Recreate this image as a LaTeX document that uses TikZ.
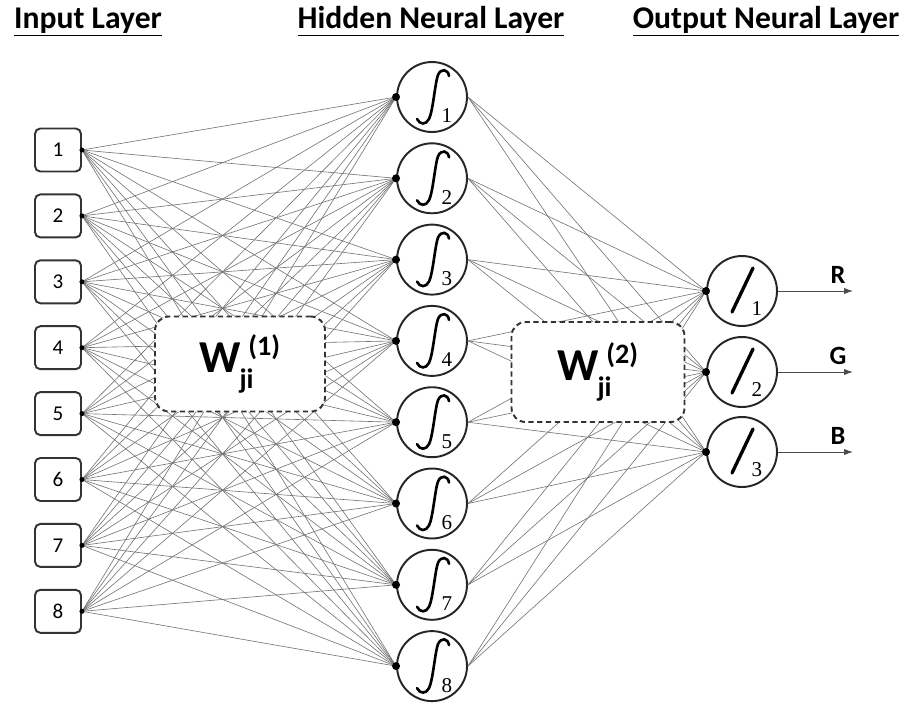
\documentclass[tikz,border=0pt]{standalone}
\usepackage{fontspec}
\setmainfont{Carlito}
\newfontfamily\subfont{Liberation Serif}
\usepackage{tikz}
\usetikzlibrary{arrows.meta}

\begin{document}
\begin{tikzpicture}[x=0.02cm,y=-0.02cm,
    inbox/.style={draw=black!80,line width=1.1pt,rounded corners=3pt,fill=white,
          minimum width=0.92cm,minimum height=0.86cm,font=\fontsize{12}{12}\selectfont},
    neuron/.style={draw=black!85,line width=1.1pt,circle,fill=white,
          minimum size=1.4cm,inner sep=0pt},
    wbox/.style={draw=black!80,line width=1.1pt,dash pattern=on 3pt off 2pt,
          rounded corners=8pt,fill=white},
    link/.style={black!55,line width=0.35pt},
    title/.style={font=\fontsize{18}{18}\selectfont\bfseries,anchor=base},
    idx/.style={font=\subfont\fontsize{12}{12}\selectfont,inner sep=0pt},
    wlabel/.style={font=\fontsize{26}{26}\selectfont\bfseries}]
    \useasboundingbox (0,0) rectangle (902,711);

    % Layer titles
    \node[title] (tin) at (88,28) {\underline{Input Layer}};
    \node[title] (thid) at (431,28) {\underline{Hidden Neural Layer}};
    \node[title] (tout) at (766,28) {\underline{Output Neural Layer}};

    % Input layer
    \foreach \i in {1,...,8}
        \node[inbox] (in\i) at (58,{150+65.9*(\i-1)}) {\i};

    % Hidden neural layer
    \foreach \j in {1,...,8}{
        \node[neuron] (hid\j) at (432,{97+81.3*(\j-1)}) {};
        \draw[shift={(hid\j)},line width=1.5pt,line cap=round]
            (17,-21) .. controls (16,-28) and (9,-29) .. (6,-22)
            .. controls (3,-14) and (1,14) .. (-3,22)
            .. controls (-6,28) and (-12,28) .. (-15,22);
        \node[idx] at ([shift={(15,19)}]hid\j.center) {\j};
    }

    % Output neural layer
    \foreach \k/\y in {1/291,2/372,3/452}{
        \node[neuron] (out\k) at (742,\y) {};
        \draw[line width=1.9pt,line cap=round] ([shift={(-10,21)}]out\k.center)
            -- ([shift={(11,-23)}]out\k.center);
        \node[idx] at ([shift={(15,18)}]out\k.center) {\k};
    }

    % Connections
    \foreach \i in {1,...,8}
        \foreach \j in {1,...,8}
            \draw[link] (in\i.east) -- (hid\j.west);
    \foreach \j in {1,...,8}
        \foreach \k in {1,2,3}
            \draw[link] (hid\j.east) -- (out\k.west);
    \foreach \i in {1,...,8}
        \fill (in\i.east) circle (2.5);
    \foreach \j in {1,...,8}
        \fill (hid\j.west) circle (4);
    \foreach \k in {1,2,3}
        \fill (out\k.west) circle (4);

    % Weight boxes
    \node[wbox,minimum width=3.4cm,minimum height=1.9cm] (w1) at (240,364) {};
    \node[wlabel] at (w1) {W\hspace{-1pt}\raisebox{-9pt}{\fontsize{16}{16}\selectfont ji}\hspace{-3pt}\raisebox{10pt}{\fontsize{16}{16}\selectfont (1)}};
    \node[wbox,minimum width=3.46cm,minimum height=2cm] (w2) at (598,372) {};
    \node[wlabel] at (w2) {W\hspace{-1pt}\raisebox{-9pt}{\fontsize{16}{16}\selectfont ji}\hspace{-3pt}\raisebox{10pt}{\fontsize{16}{16}\selectfont (2)}};

    % Outputs
    \foreach \k/\c in {1/R,2/G,3/B}{
        \coordinate (rgb\k) at ([shift={(75,0)}]out\k.east);
        \draw[black!70,line width=0.5pt,-{Latex[length=5pt,width=3.5pt]}] (out\k.east) -- (rgb\k);
        \node[font=\fontsize{15}{15}\selectfont\bfseries] at ([shift={(-15,-16)}]rgb\k) {\c};
    }
\end{tikzpicture}
\end{document}
